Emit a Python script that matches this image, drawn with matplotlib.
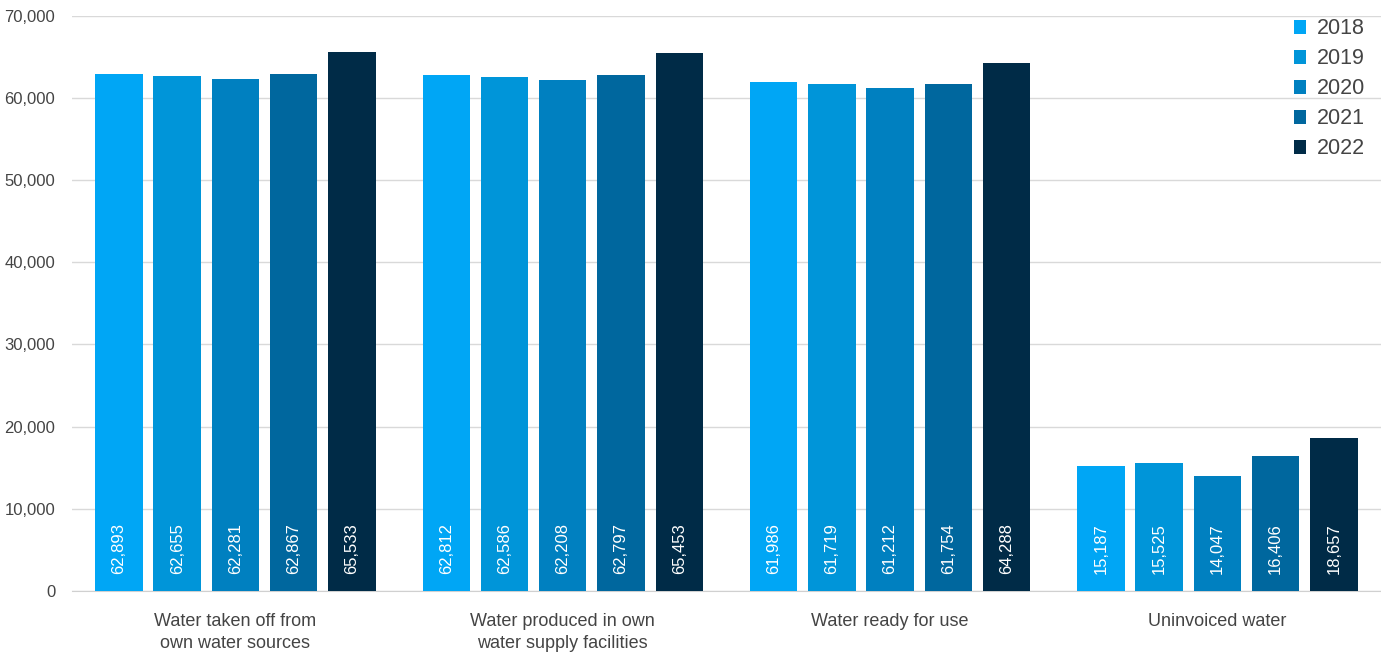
import matplotlib
matplotlib.use("Agg")
import matplotlib.pyplot as plt
from matplotlib.ticker import FuncFormatter
import numpy as np

categories = ["Water taken off from\nown water sources",
              "Water produced in own\nwater supply facilities",
              "Water ready for use",
              "Uninvoiced water"]
years = ["2018", "2019", "2020", "2021", "2022"]
values = {
    "2018": [62893, 62812, 61986, 15187],
    "2019": [62655, 62586, 61719, 15525],
    "2020": [62281, 62208, 61212, 14047],
    "2021": [62867, 62797, 61754, 16406],
    "2022": [65533, 65453, 64288, 18657],
}
colors = ["#00a6f5", "#0095d9", "#0080c0", "#00679e", "#002b47"]

plt.rcParams['font.family'] = ['Liberation Sans', 'DejaVu Sans']

fig = plt.figure(figsize=(13.81, 6.56), dpi=100)
ax = fig.add_axes([0.052, 0.099, 0.948, 0.877])

x = np.arange(len(categories))
width = 0.145
step = 0.178
for i, (year, color) in enumerate(zip(years, colors)):
    pos = x + (i - 2) * step
    bars = ax.bar(pos, values[year], width, color=color, label=year, zorder=3)
    for xp, v in zip(pos, values[year]):
        ax.text(xp, 5200, f"{v:,}", rotation=90, ha="center", va="center",
                color="white", fontsize=12, zorder=4)

ax.set_xlim(-0.5, 3.5)
ax.set_ylim(0, 70000)
ax.set_yticks(range(0, 70001, 10000))
ax.yaxis.set_major_formatter(FuncFormatter(lambda v, p: f"{int(v):,}"))
ax.set_xticks(x)
ax.set_xticklabels(categories, fontsize=13, color="#444444", linespacing=1.35)
ax.tick_params(axis="y", labelsize=12, colors="#444444", length=0, pad=12)
ax.tick_params(axis="x", length=0, pad=16)
ax.grid(axis="y", color="#d9d9d9", linewidth=1, zorder=0)
for s in ["top", "right", "left"]:
    ax.spines[s].set_visible(False)
ax.spines["bottom"].set_color("#d0d0d0")

leg = ax.legend(loc="upper right", frameon=False, fontsize=15.5,
                handlelength=0.6, handleheight=0.6, handletextpad=0.5,
                labelspacing=0.42, borderaxespad=0.2,
                bbox_to_anchor=(0.998, 1.018))
for t in leg.get_texts():
    t.set_color("#444444")

fig.savefig("out.png", dpi=100)
